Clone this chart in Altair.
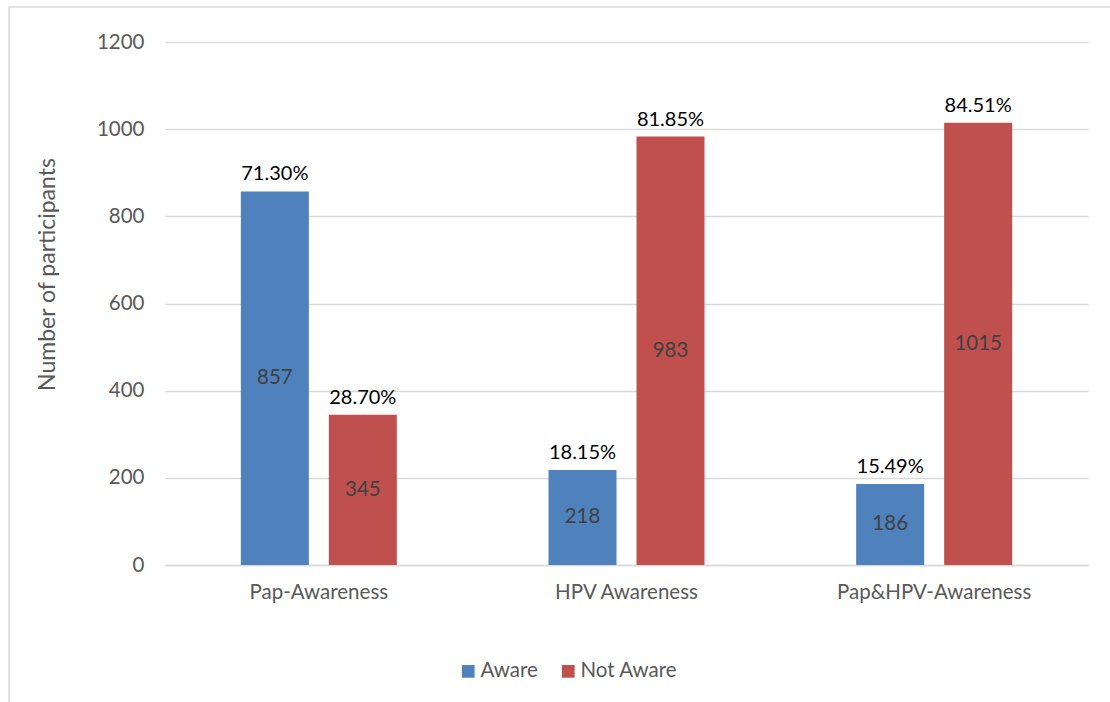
import altair as alt
import pandas as pd

categories = ["Pap-Awareness", "HPV Awareness", "Pap&HPV-Awareness"]
aware = [857, 218, 186]
not_aware = [345, 983, 1015]
aware_pct = ["71.30%", "18.15%", "15.49%"]
not_aware_pct = ["28.70%", "81.85%", "84.51%"]
statuses = ["Aware", "Not Aware"]

rows = []
for i, c in enumerate(categories):
    rows.append({"cat": c, "status": "Aware", "value": aware[i], "pct": aware_pct[i]})
    rows.append({"cat": c, "status": "Not Aware", "value": not_aware[i], "pct": not_aware_pct[i]})
df = pd.DataFrame(rows)

FONT = "Lato"
W, H = 923, 523

x = alt.X("cat:N", sort=categories, title=None,
          scale=alt.Scale(paddingInner=0.493, paddingOuter=0.2465),
          axis=alt.Axis(labelAngle=0, labelFontSize=20.5, labelColor="#595959", labelFont=FONT,
                        labelLimit=400, domainColor="#D9D9D9", domainWidth=1.5, ticks=False,
                        labelPadding=17))
xo = alt.XOffset("status:N", sort=statuses, scale=alt.Scale(paddingInner=0.227, paddingOuter=0))
color = alt.Color("status:N", sort=statuses,
                  scale=alt.Scale(domain=statuses, range=["#4F81BD", "#C0504D"]),
                  legend=alt.Legend(title=None, orient="none", direction="horizontal",
                                    legendX=293, legendY=619, symbolType="square", symbolSize=161,
                                    symbolStrokeWidth=0, labelFontSize=20.5, labelColor="#595959",
                                    labelFont=FONT, columnPadding=20, labelOffset=2))

base = alt.Chart(df)

bars = base.mark_bar().encode(
    x=x, xOffset=xo,
    y=alt.Y("value:Q", title="Number of participants",
            scale=alt.Scale(domain=[0, 1200], nice=False),
            axis=alt.Axis(values=[0, 200, 400, 600, 800, 1000, 1200], format="d", grid=True,
                          gridColor="#D9D9D9", gridWidth=1.5, domain=False, ticks=False,
                          labelFontSize=20.5, labelColor="#595959", labelFont=FONT, labelPadding=21,
                          titleFontSize=23, titleColor="#595959", titleFont=FONT,
                          titleFontWeight="normal", titlePadding=37, titleY=232)),
    color=color,
)

pct = base.mark_text(baseline="alphabetic", dy=-11, fontSize=20, font=FONT, color="#000000").encode(
    x=x, xOffset=xo, y="value:Q", text="pct:N")

inner = base.transform_calculate(mid="datum.value / 2").mark_text(
    baseline="middle", fontSize=20.5, font=FONT, color="#404040").encode(
    x=x, xOffset=xo, y="mid:Q", text="value:Q")

border_v = alt.Chart(pd.DataFrame({"a": [0]})).mark_rule(color="#D9D9D9", strokeWidth=1.5).encode(
    x=alt.value(9 - 165), y=alt.value(7 - 42), y2=alt.value(H + 200))
border_h = alt.Chart(pd.DataFrame({"a": [0]})).mark_rule(color="#D9D9D9", strokeWidth=1.5).encode(
    y=alt.value(7 - 42), x=alt.value(9 - 165), x2=alt.value(W + 200))

chart = alt.layer(bars, pct, inner, border_v, border_h).properties(
    width=W, height=H,
    background="white",
    autosize=alt.AutoSizeParams(type="none"),
    padding={"left": 165, "top": 42, "right": 22, "bottom": 137},
).configure_view(stroke="transparent", strokeWidth=0)

chart.save("out.html", embed_options={"renderer": "svg", "actions": False})
